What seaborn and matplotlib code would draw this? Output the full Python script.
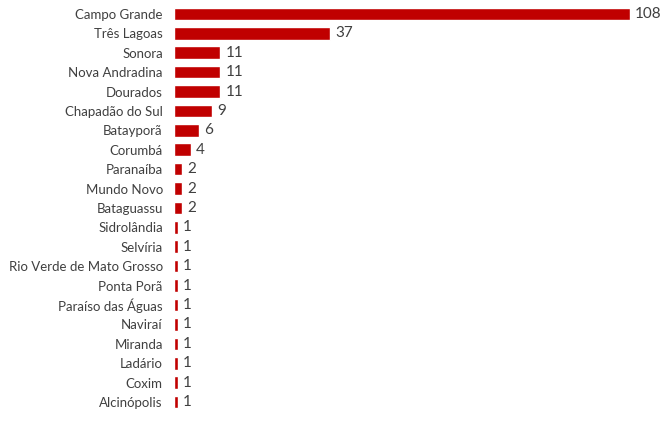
import matplotlib
matplotlib.use("Agg")
import matplotlib.pyplot as plt
import seaborn as sns
import pandas as pd

cidades = ["Campo Grande", "Três Lagoas", "Sonora", "Nova Andradina", "Dourados",
           "Chapadão do Sul", "Batayporã", "Corumbá", "Paranaíba", "Mundo Novo",
           "Bataguassu", "Sidrolândia", "Selvíria", "Rio Verde de Mato Grosso",
           "Ponta Porã", "Paraíso das Águas", "Naviraí", "Miranda", "Ladário",
           "Coxim", "Alcinópolis"]
valores = [108, 37, 11, 11, 11, 9, 6, 4, 2, 2, 2, 1, 1, 1, 1, 1, 1, 1, 1, 1, 1]

df = pd.DataFrame({"cidade": cidades, "valor": valores})

sns.set_style("white")
plt.rcParams["font.family"] = ["Lato", "DejaVu Sans"]

fig = plt.figure(figsize=(6.64, 4.21), dpi=100)
ax = fig.add_axes([0.262, 0.022, 0.687, 0.968])
sns.barplot(data=df, x="valor", y="cidade", color="#C00000", saturation=1,
            width=0.65, ax=ax)
ax.set_xlim(0, 108)
ax.set_ylim(20.5, -0.5)
for i, v in enumerate(valores):
    ax.text(v + 1.2, i, str(v), va="center", ha="left", fontsize=11, color="#404040",
            clip_on=False)
ax.set_xlabel("")
ax.set_ylabel("")
ax.set_xticks([])
ax.tick_params(axis="y", length=0, labelsize=9.5, labelcolor="#404040", pad=8)
sns.despine(ax=ax, left=True, bottom=True)
fig.savefig("out.png", dpi=100)
